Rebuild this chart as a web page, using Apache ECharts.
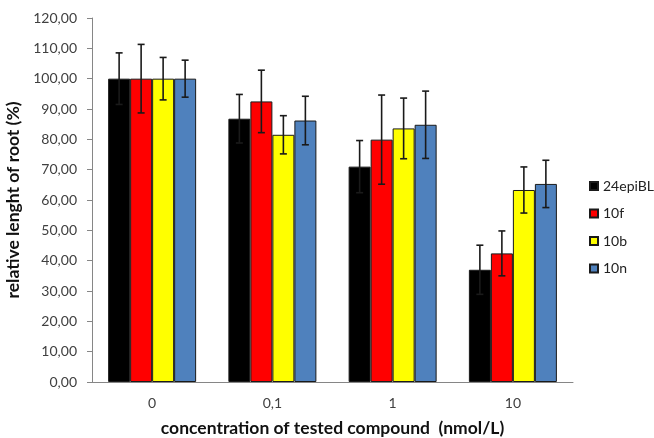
<!DOCTYPE html>
<html>
<head>
<meta charset="utf-8">
<script src="https://cdn.jsdelivr.net/npm/echarts@6/dist/echarts.min.js"></script>
<style>
    html, body { margin: 0; padding: 0; background: #fff; }
    #main { width: 654px; height: 438px; }
</style>
</head>
<body>
<div id="main"></div>
<script>
var categories = ['0', '0,1', '1', '10'];
var seriesNames = ['24epiBL', '10f', '10b', '10n'];

var epiBL = [100, 86.8, 71.0, 37.0];
var f10 = [100, 92.5, 79.9, 42.4];
var b10 = [100, 81.5, 83.6, 63.3];
var n10 = [100, 86.2, 84.8, 65.3];

// standard deviation (error bar half-length)
var epiBLErr = [8.5, 8.0, 8.6, 8.1];
var f10Err = [11.3, 10.3, 14.7, 7.4];
var b10Err = [7.0, 6.3, 10.0, 7.6];
var n10Err = [6.1, 8.0, 11.1, 7.8];

var yTicks = [0, 10, 20, 30, 40, 50, 60, 70, 80, 90, 100, 110, 120];

var values = [epiBL, f10, b10, n10];
var errors = [epiBLErr, f10Err, b10Err, n10Err];
var colors = ['#000000', '#ff0000', '#ffff00', '#4f81bd'];
var barW = 22;

var myChart = echarts.init(document.getElementById('main'));

var series = [];
values.forEach(function (vals, k) {
    series.push({
        name: seriesNames[k],
        type: 'bar',
        barWidth: barW,
        barGap: '0%',
        data: vals,
        itemStyle: { color: colors[k], borderColor: '#1a1a1a', borderWidth: 1 }
    });
});

// error bars drawn on top of each bar
values.forEach(function (vals, k) {
    var data = vals.map(function (v, i) {
        return [i, v - errors[k][i], v + errors[k][i]];
    });
    series.push({
        type: 'custom',
        z: 10,
        silent: true,
        data: data,
        encode: { x: 0, y: [1, 2] },
        renderItem: function (params, api) {
            var off = (k - 1.5) * barW;
            var lo = api.coord([api.value(0), api.value(1)]);
            var hi = api.coord([api.value(0), api.value(2)]);
            var x = lo[0] + off;
            var cap = 3.5;
            var st = { stroke: '#1a1a1a', lineWidth: 1.6 };
            return {
                type: 'group',
                children: [
                    { type: 'line', shape: { x1: x, y1: lo[1], x2: x, y2: hi[1] }, style: st },
                    { type: 'line', shape: { x1: x - cap, y1: hi[1], x2: x + cap, y2: hi[1] }, style: st },
                    { type: 'line', shape: { x1: x - cap, y1: lo[1], x2: x + cap, y2: lo[1] }, style: st }
                ]
            };
        }
    });
});

var option = {
    backgroundColor: '#ffffff',
    animation: false,
    textStyle: { fontFamily: 'Lato' },
    grid: { left: 92, right: 81, top: 18, bottom: 56, outerBoundsMode: 'none' },
    legend: {
        orient: 'vertical',
        left: 584,
        top: 174,
        itemWidth: 8,
        itemHeight: 8,
        itemGap: 13.5,
        icon: 'rect',
        data: seriesNames,
        textStyle: { fontFamily: 'Lato', fontSize: 14, lineHeight: 14, color: '#222' }
    },
    xAxis: {
        type: 'category',
        data: categories,
        name: 'concentration of tested compound  (nmol/L)',
        nameLocation: 'middle',
        nameGap: 37,
        nameTextStyle: { fontFamily: 'Lato', fontWeight: 'bold', fontSize: 17.5, color: '#111' },
        axisLine: { lineStyle: { color: '#868686', width: 1 } },
        axisTick: { length: 5, lineStyle: { color: '#868686' } },
        axisLabel: { fontFamily: 'Lato', fontSize: 14, color: '#404040', margin: 14 }
    },
    yAxis: {
        type: 'value',
        min: yTicks[0],
        max: yTicks[yTicks.length - 1],
        interval: 10,
        name: 'relative lenght of root (%)',
        nameLocation: 'middle',
        nameGap: 56,
        nameTextStyle: { fontFamily: 'Lato', fontWeight: 'bold', fontSize: 17.5, color: '#111' },
        axisLine: { show: true, lineStyle: { color: '#868686', width: 1 } },
        axisTick: { show: true, length: 5, lineStyle: { color: '#868686' } },
        splitLine: { show: false },
        axisLabel: {
            fontFamily: 'Lato',
            fontSize: 14,
            color: '#404040',
            margin: 15,
            formatter: function (v) { return v.toFixed(2).replace('.', ','); }
        }
    },
    series: series
};
myChart.setOption(option);
</script>
</body>
</html>
